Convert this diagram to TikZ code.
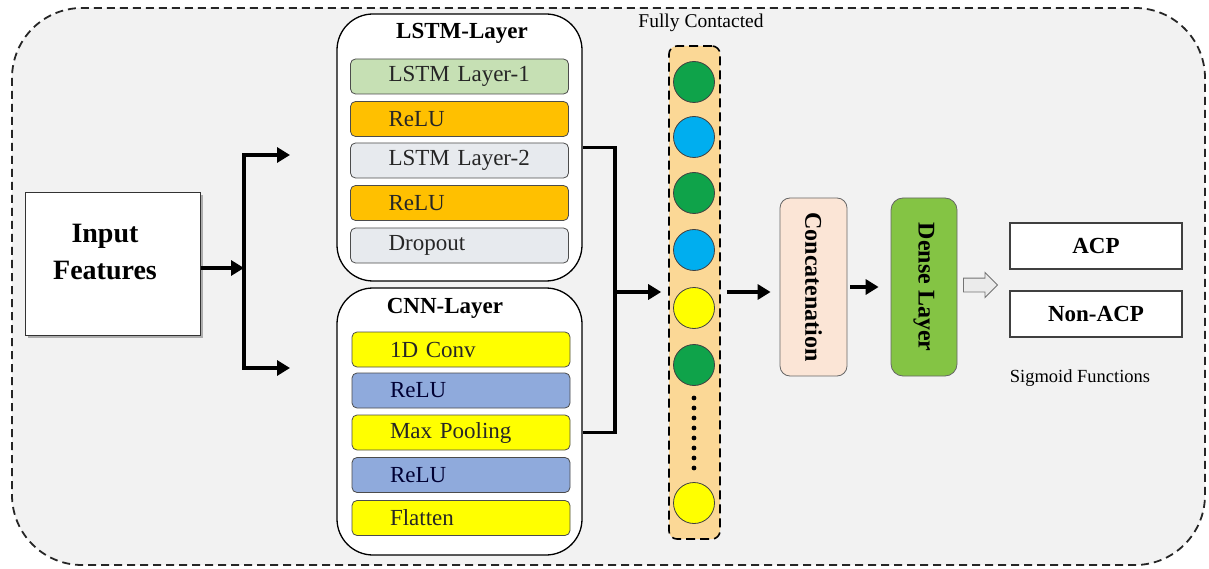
\documentclass[tikz,border=0pt]{standalone}
\usepackage{fontspec}
\setmainfont{Liberation Serif}
\usetikzlibrary{positioning,arrows.meta,shapes.arrows,shadows,calc}
\definecolor{bgpanel}{HTML}{F2F2F2}
\definecolor{lstmgreen}{HTML}{C6E0B4}
\definecolor{reluorange}{HTML}{FFC000}
\definecolor{lstmgray}{HTML}{E7EAEE}
\definecolor{cnnyellow}{HTML}{FFFF00}
\definecolor{relublue}{HTML}{8FAADC}
\definecolor{fcband}{HTML}{FBD896}
\definecolor{concatpeach}{HTML}{FBE5D6}
\definecolor{densegreen}{HTML}{84C444}
\definecolor{nodegreen}{HTML}{0FA34A}
\definecolor{nodeblue}{HTML}{00AEEF}
\definecolor{nodeyellow}{HTML}{FFFF00}
\newcommand{\fsz}[2]{\fontsize{#1}{#2}\selectfont}
\tikzset{
    frame/.style={draw=black!85,fill=bgpanel,line width=1.8pt,dash pattern=on 8pt off 5pt,rounded corners=70pt},
    inputbox/.style={draw=black!80,fill=white,line width=1pt,minimum width=175pt,minimum height=142pt,
        drop shadow={shadow xshift=2.5pt,shadow yshift=-2.5pt,fill=black!50,opacity=0.6}},
    inputtext/.style={align=center,font=\fsz{28}{37}\bfseries,inner sep=0pt},
    group/.style={draw=black,line width=1.3pt,fill=white,rounded corners=36pt,minimum width=245pt,minimum height=267pt},
    grouptitle/.style={font=\fsz{23}{27}\bfseries,inner sep=0pt},
    layerbox/.style={draw=black!70,line width=0.8pt,rounded corners=5pt,minimum height=35pt,
        text width=142pt,inner xsep=38pt,inner ysep=0pt,align=left,font=\fsz{23}{27},text=black!85},
    neuron/.style={circle,draw=black!75,line width=0.8pt,minimum size=41pt,inner sep=0pt},
    fccol/.style={draw=black,fill=fcband,line width=1.6pt,dash pattern=on 9pt off 5pt,rounded corners=8pt,
        minimum width=51pt,minimum height=493pt},
    vertbox/.style={rotate=-90,draw=black!60,line width=0.8pt,minimum width=178pt,font=\fsz{24}{28}\bfseries,inner sep=0pt},
    classbox/.style={draw=black!75,fill=white,line width=1.3pt,minimum width=172pt,minimum height=46pt,font=\fsz{23}{27}\bfseries},
    note/.style={font=\fsz{19.5}{23},inner sep=0pt},
    arr/.style={-{Triangle[length=13pt,width=15pt]},line width=3.6pt},
    line/.style={line width=3.6pt},
    outarrow/.style={single arrow,draw=black!55,fill=black!8,line width=0.9pt,minimum height=34pt,
        single arrow head extend=5.5pt,inner xsep=0pt,inner ysep=6.5pt},
}
\begin{document}
\begin{tikzpicture}[x=1pt,y=-1pt]
    \useasboundingbox (0,0) rectangle (1209,569);
    \draw[frame] (12,8) rectangle (1205,565);

    % input
    \node[inputbox] (inp) at (112.5,264) {};
    \node[inputtext] (inptxt) at (105,252) {Input\\Features};
    \coordinate (split) at (244,268);
    \coordinate (lstmin) at (290,155);
    \coordinate (cnnin) at (290,368);

    % LSTM branch
    \node[group] (lstm) at (459.5,147.5) {};
    \node[grouptitle] (lstmtitle) at (462,33) {LSTM-Layer};
    \node[layerbox,fill=lstmgreen] (l1) at (459.5,76.5) {LSTM Layer-1};
    \node[layerbox,fill=reluorange] (lr1) at (459.5,119) {ReLU};
    \node[layerbox,fill=lstmgray] (l2) at (459.5,160.5) {LSTM Layer-2};
    \node[layerbox,fill=reluorange] (lr2) at (459.5,203) {ReLU};
    \node[layerbox,fill=lstmgray] (drop) at (459.5,245.5) {Dropout};

    % CNN branch
    \node[group] (cnn) at (459.5,421.5) {};
    \node[grouptitle] (cnntitle) at (445,308) {CNN-Layer};
    \node[layerbox,fill=cnnyellow] (conv) at (461,349.5) {1D Conv};
    \node[layerbox,fill=relublue,text=black!80!blue] (cr1) at (461,390.5) {ReLU};
    \node[layerbox,fill=cnnyellow] (mp) at (461,432.5) {Max Pooling};
    \node[layerbox,fill=relublue,text=black!80!blue] (cr2) at (461,475) {ReLU};
    \node[layerbox,fill=cnnyellow] (flat) at (461,518) {Flatten};

    % fully connected column
    \node[note] (fctitle) at (701,23) {Fully Contacted};
    \node[fccol] (fc) at (694.5,292.5) {};
    \foreach \y/\c [count=\i] in {82/nodegreen,137/nodeblue,193/nodegreen,250/nodeblue,308/nodeyellow,365/nodegreen,503/nodeyellow}
        \node[neuron,fill=\c] (n\i) at (694,\y) {};
    \foreach \y in {398,408,...,468}
        \fill (694,\y) circle (2.4);
    \coordinate (merge) at (615,292);

    % head
    \node[vertbox,fill=concatpeach,minimum height=67pt,rounded corners=10pt] (concat) at (813.5,287) {Concatenation};
    \node[vertbox,fill=densegreen,minimum height=66pt,rounded corners=12pt] (dense) at (924,287) {Dense Layer};
    \node[outarrow] (outarr) at (977,285) {};
    \node[classbox] (acp) at (1096,246) {ACP};
    \node[classbox] (nonacp) at (1096,314) {Non-ACP};
    \node[note,font=\fsz{18.5}{22}] (sigm) at (1080,378) {Sigmoid Functions};

    % connectors (rotated boxes: south is the left side)
    \draw[arr] (inp.east |- split) -- (split);
    \draw[arr] (split) |- (lstmin);
    \draw[arr] (split) |- (cnnin);
    \draw[line] (lstm.east) -| (merge);
    \draw[line] (cnn.east |- mp) -| (merge);
    \draw[arr,shorten >=7pt] (merge) -- (fc.west |- merge);
    \draw[arr,shorten <=6pt,shorten >=9pt] (fc.east |- merge) -- (concat.south |- merge);
    \draw[arr,shorten <=3pt,shorten >=12pt] (concat.north) -- (dense.south);
\end{tikzpicture}
\end{document}
